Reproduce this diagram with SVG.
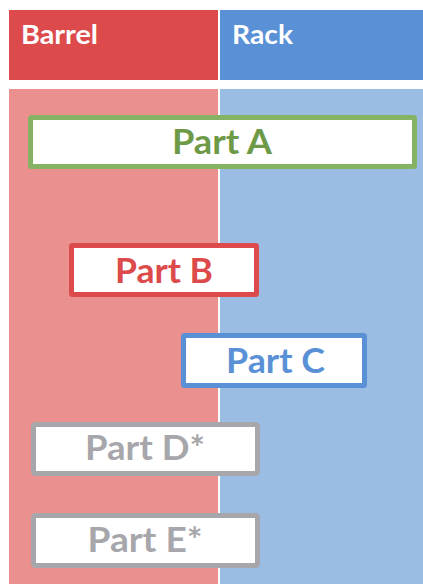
<svg xmlns="http://www.w3.org/2000/svg" width="423" height="584" viewBox="0 0 423 584">
  <style>
    .hdr { font-family: Lato, "Open Sans", "Liberation Sans", sans-serif; font-weight: bold; font-size: 26px; fill: #ffffff; }
    .part rect { fill: #ffffff; stroke-width: 5; }
    .part text { font-family: Lato, "Open Sans", "Liberation Sans", sans-serif; font-weight: bold; font-size: 35px; text-anchor: middle; }
    .green rect { stroke: #86B264; } .green text { fill: #6E9A48; }
    .red rect { stroke: #DC4A4B; } .red text { fill: #DC4A4B; }
    .blue rect { stroke: #5A91D6; } .blue text { fill: #5A91D6; }
    .grey rect { stroke: #A6A6AB; } .grey text { fill: #A6A6AB; }
  </style>
  <rect width="423" height="584" fill="#ffffff"/>

  <!-- swimlanes -->
  <g id="lane-barrel">
    <rect x="9" y="10" width="209" height="70" fill="#DC4A4B"/>
    <text class="hdr" x="21" y="44" textLength="77" lengthAdjust="spacingAndGlyphs">Barrel</text>
    <rect x="9" y="89" width="209" height="495" fill="#EA9190"/>
  </g>
  <g id="lane-rack">
    <rect x="220" y="10" width="203" height="70" fill="#5A91D6"/>
    <text class="hdr" x="232" y="44" textLength="61" lengthAdjust="spacingAndGlyphs">Rack</text>
    <rect x="220" y="89" width="203" height="495" fill="#9BBDE4"/>
  </g>

  <!-- parts -->
  <g id="part-a" class="part green">
    <rect x="30.5" y="117.5" width="384" height="49" rx="1"/>
    <text x="222" y="154" textLength="100" lengthAdjust="spacingAndGlyphs">Part A</text>
  </g>
  <g id="part-b" class="part red">
    <rect x="71.5" y="245.5" width="185" height="49" rx="1"/>
    <text x="164" y="283" textLength="98" lengthAdjust="spacingAndGlyphs">Part B</text>
  </g>
  <g id="part-c" class="part blue">
    <rect x="183.5" y="335.5" width="181" height="50" rx="1"/>
    <text x="275.5" y="373" textLength="99" lengthAdjust="spacingAndGlyphs">Part C</text>
  </g>
  <g id="part-d" class="part grey">
    <rect x="33.5" y="424.5" width="224" height="49" rx="2"/>
    <text x="145" y="460" textLength="120" lengthAdjust="spacingAndGlyphs">Part D*</text>
  </g>
  <g id="part-e" class="part grey">
    <rect x="33.5" y="515.5" width="224" height="50" rx="2"/>
    <text x="145" y="552" textLength="115" lengthAdjust="spacingAndGlyphs">Part E*</text>
  </g>

  <g id="connectors"/>
</svg>
